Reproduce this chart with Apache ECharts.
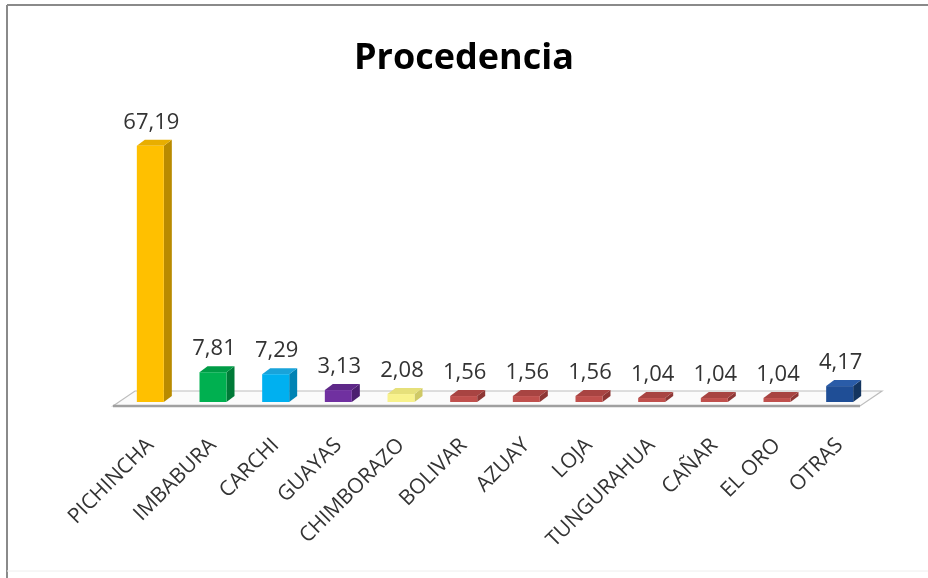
<!DOCTYPE html>
<html>
<head>
<meta charset="utf-8">
<script src="https://cdn.jsdelivr.net/npm/echarts@6/dist/echarts.min.js"></script>
<style>
  html, body { margin: 0; padding: 0; background: #fff; }
  #main { width: 928px; height: 578px; }
</style>
</head>
<body>
<div id="main"></div>
<script>
var provincias = ['PICHINCHA', 'IMBABURA', 'CARCHI', 'GUAYAS', 'CHIMBORAZO', 'BOLIVAR',
    'AZUAY', 'LOJA', 'TUNGURAHUA', 'CAÑAR', 'EL ORO', 'OTRAS'];
var porcentajes = [67.19, 7.81, 7.29, 3.13, 2.08, 1.56, 1.56, 1.56, 1.04, 1.04, 1.04, 4.17];
var etiquetas = ['67,19', '7,81', '7,29', '3,13', '2,08', '1,56', '1,56', '1,56', '1,04', '1,04', '1,04', '4,17'];

// front / side / top colours per bar
var colores = [
    ['#FFC000', '#B98B00', '#E8AE00'],
    ['#00B050', '#007A37', '#009C46'],
    ['#00B0F0', '#0083B4', '#19A3DA'],
    ['#7030A0', '#4C1F70', '#5E2888'],
    ['#F8F28C', '#CFC966', '#E6E07A'],
    ['#C0504D', '#8E3735', '#A84442'],
    ['#C0504D', '#8E3735', '#A84442'],
    ['#C0504D', '#8E3735', '#A84442'],
    ['#C0504D', '#8E3735', '#A84442'],
    ['#C0504D', '#8E3735', '#A84442'],
    ['#C0504D', '#8E3735', '#A84442'],
    ['#1F4E96', '#14355F', '#2A5CA8']
];

var chart = echarts.init(document.getElementById('main'));

var dx = 8, dy = 6, ancho = 27;

function barra3d(params, api) {
    var i = api.value(0);
    var base = api.coord([i, 0]);
    var tope = api.coord([i, api.value(1)]);
    var x0 = base[0] - ancho / 2, x1 = base[0] + ancho / 2;
    var yb = base[1], yt = tope[1];
    var c = colores[i];
    return {
        type: 'group',
        children: [
            { type: 'polygon', shape: { points: [[x1, yb], [x1 + dx, yb - dy], [x1 + dx, yt - dy], [x1, yt]] },
              style: { fill: c[1] } },
            { type: 'polygon', shape: { points: [[x0, yt], [x1, yt], [x1 + dx, yt - dy], [x0 + dx, yt - dy]] },
              style: { fill: c[2] } },
            { type: 'rect', shape: { x: x0, y: yt, width: ancho, height: yb - yt },
              style: { fill: c[0] } },
            { type: 'text', x: base[0] + 1, y: yt - 12,
              style: { text: etiquetas[i], fill: '#333333', font: '22px "Open Sans"',
                       align: 'center', verticalAlign: 'bottom' } }
        ]
    };
}

function piso(params, api) {
    var cs = params.coordSys;
    var yb = api.coord([0, 0])[1];
    var l = cs.x - 6, r = cs.x + cs.width - 11;
    var yf = yb + 4, yk = yb - 11, o = 22;
    return {
        type: 'group',
        children: [
            { type: 'polygon', shape: { points: [[l, yf], [l + o, yk], [r + o, yk], [r, yf]] },
              style: { fill: '#FBFBFB', stroke: '#BDBDBD', lineWidth: 1.2 } },
            { type: 'line', shape: { x1: l, y1: yf, x2: r, y2: yf },
              style: { stroke: '#A0A0A0', lineWidth: 2.5 } }
        ]
    };
}

var option = {
    backgroundColor: '#fff',
    title: {
        text: 'Procedencia',
        left: 'center',
        top: 36,
        textStyle: { fontFamily: 'Open Sans', fontWeight: 'bold', fontSize: 36, color: '#000' }
    },
    grid: { left: 119, right: 57, top: 135, bottom: 176 },
    xAxis: {
        type: 'category',
        data: provincias,
        axisLine: { show: false },
        axisTick: { show: false },
        axisLabel: {
            rotate: 45,
            interval: 0,
            margin: 40,
            fontFamily: 'Open Sans',
            fontSize: 21,
            color: '#333333'
        }
    },
    yAxis: {
        type: 'value',
        min: 0,
        max: 70,
        show: false,
        splitLine: { show: false }
    },
    graphic: [
        { type: 'line', shape: { x1: 7, y1: 5, x2: 928, y2: 5 }, style: { stroke: '#8A8A8A', lineWidth: 2 } },
        { type: 'line', shape: { x1: 7, y1: 5, x2: 7, y2: 578 }, style: { stroke: '#8A8A8A', lineWidth: 2 } },
        { type: 'line', shape: { x1: 7, y1: 571, x2: 928, y2: 571 }, style: { stroke: '#EEEEEE', lineWidth: 1 } }
    ],
    series: [
        {
            name: 'piso',
            type: 'custom',
            renderItem: piso,
            data: [[0, 0]],
            silent: true,
            z: 1
        },
        {
            name: 'Procedencia',
            type: 'custom',
            renderItem: barra3d,
            data: porcentajes.map(function (v, i) { return [i, v]; }),
            z: 2
        }
    ]
};

chart.setOption(option);
</script>
</body>
</html>
